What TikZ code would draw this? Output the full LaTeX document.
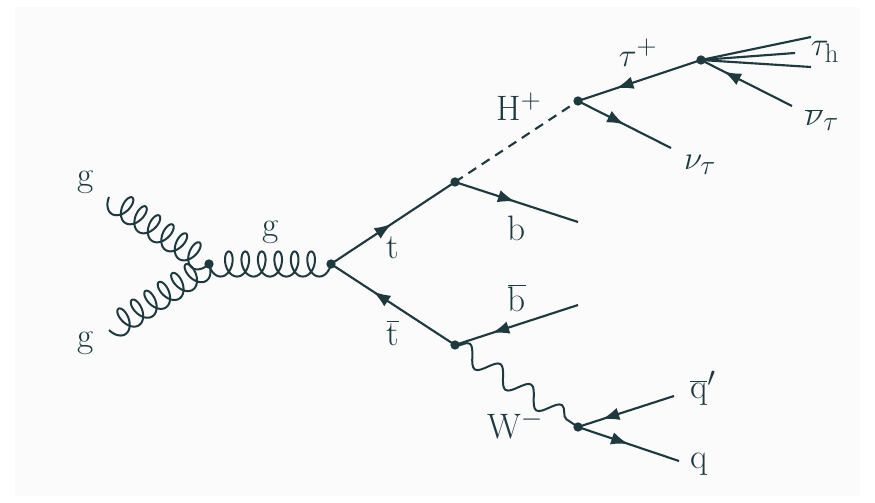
\documentclass[tikz,border=0pt]{standalone}
\usepackage{fontspec}
\setmainfont{Latin Modern Roman}
\usetikzlibrary{calc,decorations.pathmorphing,decorations.markings,arrows.meta}
\DeclareMathSizes{26.5}{26.5}{20}{16}
\definecolor{ink}{HTML}{1F3A3F}
\definecolor{bgc}{HTML}{FBFBFB}
\tikzset{
  x=0.75pt,y=-0.75pt,
  line/.style={draw=ink,line width=1.6pt},
  fermion/.style={line,postaction={decorate},decoration={markings,mark=at position #1 with {\arrow[ink]{Latex[length=13pt,width=9.5pt]}}}},
  fermion/.default=0.5,
  antifermion/.style={line,postaction={decorate},decoration={markings,mark=at position #1 with {\arrowreversed[ink]{Latex[length=13pt,width=9.5pt]}}}},
  antifermion/.default=0.5,
  gluon/.style={line,line width=1.5pt,line join=round},
  boson/.style={line,line width=1.5pt,decorate,decoration={snake,segment length=27.7pt,amplitude=7pt}},
  vtx/.style={circle,fill=ink,inner sep=0pt,minimum size=7pt},
  lab/.style={text=ink,inner sep=0pt,font=\fontsize{26.5}{30}\selectfont}
}
% a gluon from node #1 to node #2: six loops on the left of the direction of travel
\newcommand\gluonline[2]{%
  \draw[gluon] let \p1=($(#2)-(#1)$),\p2=(#1),
    \n1={atan2(\y1,\x1)},\n2={veclen(\x1,\y1)},\n3={(\n2-11.2)/2340} in
    plot[variable=\t,domain=0:2340,samples=320]
    ({\x2+(\n3*\t+5.6*(1-cos(\t)))*cos(\n1)+9.4*sin(\t)*sin(\n1)},
     {\y2+(\n3*\t+5.6*(1-cos(\t)))*sin(\n1)-9.4*sin(\t)*cos(\n1)});}
\begin{document}
\begin{tikzpicture}
\useasboundingbox (0,0) rectangle (875,503);
\fill[white] (0,0) rectangle (875,503);
\fill[bgc] (15,7) rectangle (860,496);
\node[vtx] (gv) at (209,264) {};
\node[vtx] (pv) at (331,264) {};
\node[vtx] (tv) at (455,182) {};
\node[vtx] (tb) at (455,345) {};
\node[vtx] (hv) at (578,101) {};
\node[vtx] (tau) at (701,60) {};
\node[vtx] (wv) at (578,427) {};
\coordinate (g1) at (109,197);
\coordinate (g2) at (109,330);
\coordinate (bend) at (578,222);
\coordinate (bbend) at (578,305);
\coordinate (qpend) at (674,396);
\coordinate (qend) at (679,461);
\coordinate (nuend) at (671,148);
\coordinate (nbend) at (792,106);
\coordinate (h1) at (811,37);
\coordinate (h2) at (795,53);
\coordinate (h3) at (811,67);
\gluonline{g1}{gv.center}
\gluonline{g2}{gv.center}
\gluonline{gv.center}{pv.center}
\draw[fermion=0.49] (pv.center) -- (tv.center);
\draw[antifermion=0.34] (pv.center) -- (tb.center);
\draw[fermion=0.49] (tv.center) -- (bend);
\draw[antifermion=0.30] (tb.center) -- (bbend);
\draw[line,dash pattern=on 7pt off 5pt] (tv.center) -- (hv.center);
\draw[antifermion=0.31] (hv.center) -- (tau.center);
\draw[fermion=0.50] (hv.center) -- (nuend);
\draw[antifermion=0.25] (tau.center) -- (nbend);
\draw[line] (tau.center) -- (h1);
\draw[line] (tau.center) -- (h2);
\draw[line] (tau.center) -- (h3);
\draw[boson] (tb.center) -- (wv.center);
\draw[antifermion=0.25] (wv.center) -- (qpend);
\draw[fermion=0.50] (wv.center) -- (qend);
\node[lab] (l1) at (86,182) {g};
\node[lab] (l2) at (86,343) {g};
\node[lab] (l3) at (271,232) {g};
\node[lab] (l4) at (393,248) {t};
\node[lab] (l5) at (393,333) {$\overline{\mathrm{t}}$};
\node[lab] (l6) at (517,228) {b};
\node[lab] (l8) at (517,298) {$\overline{\mathrm{b}}$};
\node[lab] (l9) at (519,107) {H$^{+}$};
\node[lab] (l10) at (638,53) {$\tau^{+}$};
\node[lab] (l11) at (825,52) {$\tau_{\mathrm{h}}$};
\node[lab] (l12) at (822,120) {$\overline{\nu}_{\tau}$};
\node[lab] (l13) at (700,165) {$\nu_{\tau}$};
\node[lab] (l14) at (515,425) {W$^{-}$};
\node[lab] (l15) at (703,388) {$\overline{\mathrm{q}}'$};
\node[lab] (l16) at (699,464) {q};
\end{tikzpicture}
\end{document}
